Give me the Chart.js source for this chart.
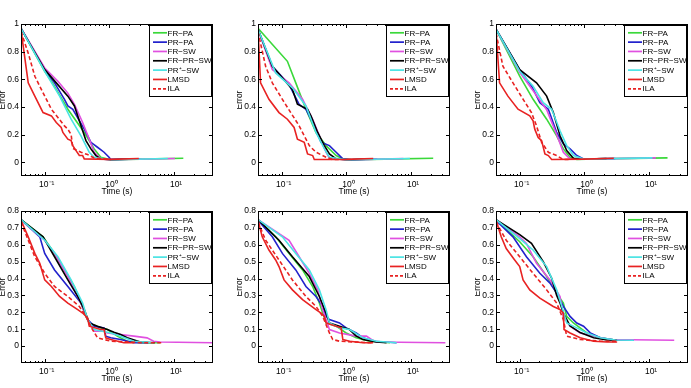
<!DOCTYPE html>
<html>
<head>
<meta charset="utf-8">
<script src="https://cdn.jsdelivr.net/npm/chart.js@4.4.0/dist/chart.umd.min.js"></script>
<style>
  html, body { margin: 0; padding: 0; background: #fff; }
  #wrap { position: relative; width: 691px; height: 388px; overflow: hidden; }
  canvas { position: absolute; }
</style>
</head>
<body>
<div id="wrap">
  <canvas id="c1" width="216" height="181" style="left:0px;top:16px"></canvas>
  <canvas id="c2" width="216" height="181" style="left:237px;top:16px"></canvas>
  <canvas id="c3" width="216" height="181" style="left:475px;top:16px"></canvas>
  <canvas id="c4" width="216" height="181" style="left:0px;top:203px"></canvas>
  <canvas id="c5" width="216" height="181" style="left:237px;top:203px"></canvas>
  <canvas id="c6" width="216" height="181" style="left:475px;top:203px"></canvas>
</div>
<script>
// legend names, in plotting order
const seriesNames = ['FR\u2212PA', 'PR\u2212PA', 'FR\u2212SW', 'FR\u2212PR\u2212SW', 'PR\u207A\u2212SW', 'LMSD', 'ILA'];

const xTickValues = [0.1, 1, 10];
const xTickLabels = ['10\u207B\u00B9', '10\u2070', '10\u00B9'];
const xMinorTicks = [0.05, 0.06, 0.07, 0.08, 0.09, 0.2, 0.3, 0.4, 0.5, 0.6, 0.7, 0.8, 0.9,
  2, 3, 4, 5, 6, 7, 8, 9, 20, 30];

const yTicksTop = [0, 0.2, 0.4, 0.6, 0.8, 1];
const yLabelsTop = ['0', '0.2', '0.4', '0.6', '0.8', '1'];
const yTicksBottom = [0, 0.1, 0.2, 0.3, 0.4, 0.5, 0.6, 0.7, 0.8];
const yLabelsBottom = ['0', '0.1', '0.2', '0.3', '0.4', '0.5', '0.6', '0.7', '0.8'];

// [time (s), error]
const p1FrPa = [[0.043,0.969],[0.1,0.658],[0.127,0.586],[0.228,0.383],[0.409,0.215],[0.582,0.096],[0.736,0.036],[1.05,0.018],[3.0,0.022],[13.9,0.028]];
const p1PrPa = [[0.043,0.969],[0.1,0.670],[0.142,0.574],[0.202,0.455],[0.228,0.407],[0.272,0.383],[0.343,0.300],[0.409,0.239],[0.518,0.144],[0.655,0.108],[0.828,0.072],[0.988,0.036],[1.05,0.020],[3.0,0.024]];
const p1FrSw = [[0.043,0.969],[0.1,0.682],[0.160,0.586],[0.228,0.500],[0.288,0.419],[0.386,0.287],[0.488,0.167],[0.582,0.072],[0.736,0.024],[1.05,0.018],[10.3,0.027]];
const p1FrPrSw = [[0.043,0.969],[0.1,0.670],[0.151,0.574],[0.228,0.478],[0.288,0.407],[0.364,0.263],[0.434,0.156],[0.518,0.096],[0.618,0.048],[0.736,0.024],[1.05,0.018],[2.0,0.022]];
const p1PrPSw = [[0.043,0.969],[0.1,0.658],[0.170,0.478],[0.256,0.311],[0.364,0.191],[0.488,0.072],[0.582,0.036],[1.05,0.018],[8.0,0.027]];
const p1Lmsd = [[0.043,0.957],[0.0556,0.574],[0.0703,0.478],[0.0943,0.359],[0.127,0.335],[0.151,0.287],[0.180,0.251],[0.191,0.215],[0.228,0.167],[0.256,0.156],[0.272,0.120],[0.305,0.084],[0.343,0.048],[0.386,0.048],[0.409,0.024],[1.05,0.020],[2.85,0.027]];
const p1Ila = [[0.043,0.945],[0.0556,0.789],[0.0703,0.622],[0.0943,0.502],[0.127,0.383],[0.160,0.323],[0.202,0.263],[0.228,0.239],[0.256,0.200],[0.272,0.100],[0.364,0.072],[0.460,0.055],[0.582,0.030],[1.05,0.020]];

const p2FrPa = [[0.043,0.969],[0.1225,0.730],[0.165,0.574],[0.237,0.383],[0.339,0.215],[0.485,0.120],[0.695,0.048],[0.882,0.024],[1.2,0.018],[4.0,0.022],[22.0,0.028]];
const p2PrPa = [[0.043,0.962],[0.0716,0.694],[0.130,0.562],[0.186,0.419],[0.237,0.383],[0.301,0.287],[0.406,0.144],[0.547,0.120],[0.695,0.072],[0.882,0.024],[1.2,0.018],[3.0,0.022]];
const p2FrSw = [[0.043,0.962],[0.0716,0.670],[0.130,0.574],[0.210,0.455],[0.301,0.311],[0.382,0.191],[0.485,0.072],[0.547,0.029],[1.0,0.018],[7.6,0.026]];
const p2FrPrSw = [[0.043,0.962],[0.0716,0.694],[0.1465,0.526],[0.175,0.419],[0.251,0.383],[0.283,0.335],[0.360,0.215],[0.457,0.120],[0.547,0.060],[0.695,0.024],[1.0,0.018],[2.0,0.022]];
const p2PrPSw = [[0.043,0.962],[0.0806,0.646],[0.1465,0.538],[0.237,0.407],[0.339,0.215],[0.457,0.096],[0.547,0.036],[1.0,0.018],[9.6,0.027]];
const p2Lmsd = [[0.043,0.969],[0.0471,0.574],[0.0635,0.455],[0.0908,0.359],[0.1225,0.311],[0.1555,0.251],[0.175,0.167],[0.223,0.144],[0.251,0.060],[0.301,0.048],[0.319,0.019],[1.0,0.020],[2.6,0.027]];
const p2Ila = [[0.043,0.945],[0.0564,0.694],[0.0716,0.574],[0.1024,0.455],[0.138,0.359],[0.186,0.263],[0.237,0.167],[0.267,0.120],[0.339,0.072],[0.485,0.036],[0.616,0.019],[0.783,0.020]];

const p3FrPa = [[0.043,0.962],[0.1,0.622],[0.161,0.455],[0.261,0.311],[0.373,0.191],[0.473,0.096],[0.601,0.036],[0.763,0.019],[1.5,0.024],[19.3,0.031]];
const p3PrPa = [[0.043,0.962],[0.1,0.670],[0.153,0.550],[0.205,0.431],[0.277,0.383],[0.373,0.215],[0.473,0.132],[0.601,0.096],[0.763,0.048],[0.97,0.024],[1.5,0.024],[3.0,0.026]];
const p3FrSw = [[0.043,0.962],[0.1,0.650],[0.171,0.500],[0.261,0.380],[0.373,0.200],[0.473,0.072],[0.601,0.024],[1.0,0.022],[12.7,0.031]];
const p3FrPrSw = [[0.043,0.962],[0.1,0.670],[0.182,0.574],[0.261,0.478],[0.331,0.359],[0.420,0.191],[0.533,0.084],[0.677,0.029],[1.0,0.022],[2.2,0.026]];
const p3PrPSw = [[0.043,0.962],[0.1,0.658],[0.161,0.550],[0.231,0.431],[0.312,0.383],[0.420,0.227],[0.533,0.120],[0.677,0.048],[1.0,0.022],[11.3,0.031]];
const p3Lmsd = [[0.043,0.957],[0.0488,0.574],[0.0657,0.478],[0.0942,0.383],[0.143,0.335],[0.161,0.299],[0.171,0.239],[0.193,0.179],[0.218,0.156],[0.2455,0.060],[0.277,0.048],[0.312,0.019],[1.0,0.022],[2.85,0.028]];
const p3Ila = [[0.043,0.933],[0.055,0.694],[0.0787,0.574],[0.113,0.455],[0.152,0.359],[0.182,0.263],[0.218,0.144],[0.277,0.072],[0.373,0.048],[0.473,0.019],[0.677,0.022]];

const p4FrPa = [[0.043,0.749],[0.0943,0.647],[0.142,0.549],[0.202,0.451],[0.288,0.353],[0.364,0.255],[0.434,0.176],[0.488,0.137],[0.736,0.108],[0.931,0.098],[1.324,0.059],[1.886,0.029],[3.02,0.020],[6.1,0.020]];
const p4PrPa = [[0.043,0.749],[0.0839,0.647],[0.1,0.549],[0.142,0.451],[0.228,0.353],[0.364,0.255],[0.460,0.157],[0.582,0.118],[0.828,0.108],[0.879,0.059],[1.048,0.049],[1.49,0.039],[2.388,0.020],[4.0,0.020]];
const p4FrSw = [[0.043,0.745],[0.1,0.627],[0.142,0.549],[0.228,0.412],[0.364,0.255],[0.460,0.157],[0.582,0.088],[0.828,0.088],[0.931,0.078],[2.388,0.059],[3.82,0.049],[4.83,0.029],[6.1,0.024],[40,0.020]];
const p4FrPrSw = [[0.043,0.749],[0.0943,0.647],[0.142,0.529],[0.228,0.392],[0.324,0.294],[0.409,0.216],[0.488,0.137],[0.655,0.118],[0.931,0.098],[1.178,0.082],[1.49,0.069],[1.886,0.049],[3.02,0.024],[5.0,0.020]];
const p4PrPSw = [[0.043,0.749],[0.1,0.627],[0.160,0.529],[0.256,0.392],[0.386,0.255],[0.460,0.157],[0.582,0.098],[1.048,0.078],[1.49,0.059],[2.388,0.029],[4.83,0.020]];
const p4Lmsd = [[0.043,0.745],[0.0556,0.647],[0.0703,0.549],[0.0839,0.490],[0.1,0.392],[0.127,0.353],[0.170,0.294],[0.228,0.255],[0.324,0.216],[0.386,0.196],[0.460,0.167],[0.488,0.118],[0.736,0.098],[0.828,0.098],[0.879,0.049],[1.05,0.039],[1.675,0.020],[2.388,0.020]];
const p4Ila = [[0.043,0.735],[0.0556,0.627],[0.0703,0.529],[0.1,0.431],[0.142,0.353],[0.228,0.294],[0.343,0.235],[0.434,0.176],[0.549,0.098],[0.655,0.049],[1.05,0.029],[3.4,0.020],[6.87,0.020]];

const p5FrPa = [[0.043,0.749],[0.0806,0.647],[0.130,0.549],[0.210,0.451],[0.301,0.353],[0.382,0.255],[0.4305,0.196],[0.485,0.137],[0.695,0.118],[0.993,0.078],[1.42,0.049],[2.3,0.029],[4.71,0.020]];
const p5PrPa = [[0.043,0.745],[0.0716,0.647],[0.1024,0.549],[0.165,0.451],[0.237,0.353],[0.339,0.294],[0.4305,0.235],[0.485,0.176],[0.547,0.157],[0.783,0.137],[0.993,0.108],[1.42,0.078],[1.81,0.049],[2.59,0.029],[5.98,0.020]];
const p5FrSw = [[0.043,0.749],[0.130,0.627],[0.186,0.529],[0.267,0.431],[0.360,0.333],[0.4305,0.216],[0.485,0.157],[0.547,0.098],[0.783,0.078],[1.42,0.059],[2.04,0.059],[2.44,0.039],[2.92,0.024],[33.9,0.020]];
const p5FrPrSw = [[0.043,0.749],[0.0908,0.627],[0.1465,0.529],[0.267,0.412],[0.382,0.294],[0.485,0.196],[0.547,0.137],[0.783,0.118],[1.12,0.098],[1.42,0.059],[1.81,0.039],[2.92,0.024],[4.18,0.020]];
const p5PrPSw = [[0.043,0.749],[0.1024,0.647],[0.165,0.549],[0.267,0.451],[0.382,0.333],[0.485,0.216],[0.547,0.137],[0.783,0.108],[1.12,0.098],[1.81,0.049],[2.92,0.029],[5.98,0.020]];
const p5Lmsd = [[0.043,0.745],[0.050,0.647],[0.0635,0.569],[0.0806,0.510],[0.0908,0.471],[0.1087,0.392],[0.1465,0.333],[0.210,0.275],[0.339,0.216],[0.406,0.196],[0.457,0.176],[0.485,0.137],[0.695,0.118],[0.830,0.108],[0.882,0.039],[1.12,0.029],[1.81,0.020],[2.59,0.020]];
const p5Ila = [[0.043,0.735],[0.0564,0.627],[0.0908,0.510],[0.1465,0.392],[0.237,0.294],[0.339,0.235],[0.4305,0.176],[0.547,0.078],[0.616,0.039],[0.783,0.029],[2.3,0.020],[2.59,0.020]];

const p6FrPa = [[0.043,0.749],[0.1,0.618],[0.161,0.529],[0.261,0.412],[0.373,0.314],[0.473,0.255],[0.533,0.176],[0.677,0.137],[1.094,0.078],[1.766,0.049],[3.0,0.036],[5.83,0.035]];
const p6PrPa = [[0.043,0.745],[0.0787,0.647],[0.127,0.529],[0.205,0.431],[0.294,0.373],[0.373,0.314],[0.473,0.235],[0.601,0.176],[0.763,0.137],[0.97,0.118],[1.233,0.078],[1.766,0.049],[3.0,0.036],[5.83,0.035]];
const p6FrSw = [[0.043,0.749],[0.1,0.647],[0.127,0.608],[0.182,0.490],[0.294,0.392],[0.420,0.294],[0.473,0.176],[0.601,0.118],[0.86,0.078],[1.766,0.049],[2.53,0.039],[24.5,0.035]];
const p6FrPrSw = [[0.043,0.749],[0.1,0.660],[0.152,0.608],[0.231,0.500],[0.312,0.402],[0.373,0.300],[0.420,0.255],[0.473,0.196],[0.601,0.120],[0.86,0.080],[1.39,0.049],[2.24,0.036],[3.21,0.035]];
const p6PrPSw = [[0.043,0.749],[0.1,0.637],[0.161,0.569],[0.261,0.471],[0.373,0.333],[0.448,0.235],[0.533,0.137],[0.763,0.108],[1.094,0.078],[1.766,0.049],[3.0,0.036],[5.83,0.035]];
const p6Lmsd = [[0.043,0.745],[0.0518,0.647],[0.0619,0.578],[0.0836,0.510],[0.1,0.471],[0.1127,0.392],[0.143,0.333],[0.205,0.284],[0.331,0.235],[0.420,0.216],[0.473,0.196],[0.485,0.098],[0.601,0.078],[0.86,0.049],[1.39,0.029],[2.24,0.024],[3.21,0.024]];
const p6Ila = [[0.043,0.735],[0.0619,0.627],[0.1,0.529],[0.161,0.431],[0.261,0.333],[0.373,0.255],[0.473,0.157],[0.533,0.059],[0.86,0.039],[1.766,0.029],[3.21,0.028]];

// styles
const lineColors = ['#3ad83a', '#2222cc', '#e050e0', '#000000', '#4ae4e4', '#e82222', '#e82222'];
const lineDashes = [[], [], [], [], [], [], [4, 2.5]];

Chart.defaults.font.family = "'Liberation Sans', Arial, sans-serif";
Chart.defaults.font.size = 8.5;
Chart.defaults.color = '#000';

// axes box with inward ticks, plus an inset legend like matlab's
const matlabFrame = {
  id: 'matlabFrame',
  afterDraw(chart) {
    const { ctx, chartArea: a, scales: { x, y } } = chart;
    const yTicks = chart.options.plugins.matlabFrame.yTicks;
    ctx.save();
    ctx.strokeStyle = '#000';
    ctx.lineWidth = 1;
    ctx.beginPath();
    xTickValues.forEach(v => {
      const px = Math.round(x.getPixelForValue(v)) + 0.5;
      ctx.moveTo(px, a.bottom); ctx.lineTo(px, a.bottom - 4);
      ctx.moveTo(px, a.top); ctx.lineTo(px, a.top + 4);
    });
    xMinorTicks.forEach(v => {
      const px = Math.round(x.getPixelForValue(v)) + 0.5;
      ctx.moveTo(px, a.bottom); ctx.lineTo(px, a.bottom - 2);
      ctx.moveTo(px, a.top); ctx.lineTo(px, a.top + 2);
    });
    yTicks.forEach(v => {
      const py = Math.round(y.getPixelForValue(v)) + 0.5;
      ctx.moveTo(a.left, py); ctx.lineTo(a.left + 4, py);
      ctx.moveTo(a.right, py); ctx.lineTo(a.right - 4, py);
    });
    ctx.stroke();
    ctx.strokeRect(a.left + 0.5, a.top + 0.5, a.right - a.left - 1, a.bottom - a.top - 1);

    // legend
    const w = 62, h = 71;
    const bx = Math.round(a.right - 2 - w) + 0.5, by = Math.round(a.top + 1) + 0.5;
    ctx.fillStyle = '#fff';
    ctx.fillRect(bx, by, w, h);
    ctx.strokeRect(bx, by, w, h);
    ctx.font = "8px 'Liberation Sans', Arial, sans-serif";
    ctx.textBaseline = 'middle';
    seriesNames.forEach((name, i) => {
      const yy = by + 7.3 + i * 9.33;
      ctx.strokeStyle = lineColors[i];
      ctx.lineWidth = 1.7;
      ctx.setLineDash(i === 6 ? [3, 2] : []);
      ctx.beginPath();
      ctx.moveTo(bx + 3.5, yy); ctx.lineTo(bx + 17.5, yy);
      ctx.stroke();
      ctx.setLineDash([]);
      ctx.fillStyle = '#000';
      ctx.fillText(name, bx + 18, yy + 0.5);
    });
    ctx.restore();
  }
};

function makePanel(id, series, yTicks, yLabels, yMax) {
  new Chart(document.getElementById(id), {
    type: 'line',
    data: {
      datasets: series.map((pts, i) => ({
        label: seriesNames[i],
        data: pts.map(p => ({ x: p[0], y: p[1] })),
        borderColor: lineColors[i],
        borderDash: lineDashes[i],
        borderWidth: 1.6,
        pointRadius: 0,
        tension: 0,
        fill: false,
        order: series.length - i
      }))
    },
    options: {
      responsive: false,
      animation: false,
      devicePixelRatio: 1,
      layout: { padding: { left: 0, right: 3, top: 8, bottom: 0 } },
      plugins: {
        legend: { display: false },
        tooltip: { enabled: false },
        matlabFrame: { yTicks: yTicks }
      },
      scales: {
        x: {
          type: 'logarithmic',
          min: 0.043,
          max: 40,
          grid: { display: false, drawTicks: false },
          border: { display: false },
          afterBuildTicks: s => { s.ticks = xTickValues.map(v => ({ value: v })); },
          afterFit: s => { s.height = 21; },
          ticks: {
            autoSkip: false,
            maxRotation: 0,
            padding: 4,
            labelOffset: 2,
            callback: (v, i) => xTickLabels[i]
          },
          title: { display: true, text: 'Time (s)', padding: 0 }
        },
        y: {
          min: -0.1,
          max: yMax,
          grid: { display: false, drawTicks: false },
          border: { display: false },
          afterBuildTicks: s => { s.ticks = yTicks.map(v => ({ value: v })); },
          afterFit: s => { s.width = 21; },
          ticks: {
            autoSkip: false,
            padding: 2,
            callback: (v, i) => yLabels[i]
          },
          title: { display: true, text: 'Error', padding: { top: -2.5, bottom: 0 } }
        }
      }
    },
    plugins: [matlabFrame]
  });
}

makePanel('c1', [p1FrPa, p1PrPa, p1FrSw, p1FrPrSw, p1PrPSw, p1Lmsd, p1Ila], yTicksTop, yLabelsTop, 1);
makePanel('c2', [p2FrPa, p2PrPa, p2FrSw, p2FrPrSw, p2PrPSw, p2Lmsd, p2Ila], yTicksTop, yLabelsTop, 1);
makePanel('c3', [p3FrPa, p3PrPa, p3FrSw, p3FrPrSw, p3PrPSw, p3Lmsd, p3Ila], yTicksTop, yLabelsTop, 1);
makePanel('c4', [p4FrPa, p4PrPa, p4FrSw, p4FrPrSw, p4PrPSw, p4Lmsd, p4Ila], yTicksBottom, yLabelsBottom, 0.8);
makePanel('c5', [p5FrPa, p5PrPa, p5FrSw, p5FrPrSw, p5PrPSw, p5Lmsd, p5Ila], yTicksBottom, yLabelsBottom, 0.8);
makePanel('c6', [p6FrPa, p6PrPa, p6FrSw, p6FrPrSw, p6PrPSw, p6Lmsd, p6Ila], yTicksBottom, yLabelsBottom, 0.8);
</script>
</body>
</html>
